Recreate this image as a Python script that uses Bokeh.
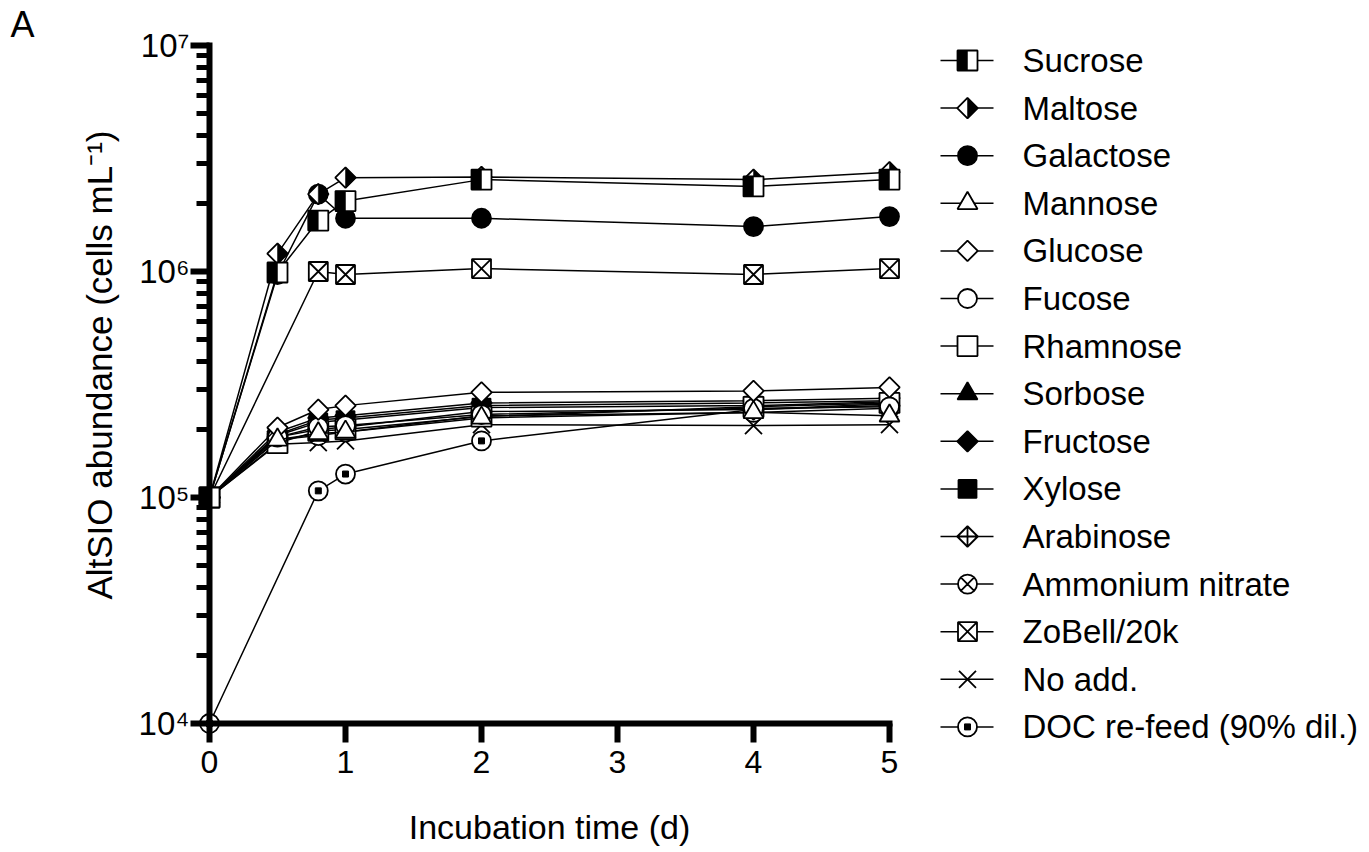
import math
from bokeh.plotting import figure
from bokeh.layouts import row
from bokeh.models import Range1d, FixedTicker, CustomJSTickFormatter, Label
from bokeh.embed import file_html
from bokeh.resources import INLINE
from bokeh.core.properties import value

FONT = "Liberation Sans"

# ---------------- data ----------------
t_full = [0, 0.5, 0.8, 1, 2, 4, 5]
t_skip = [0, 0.8, 1, 2, 4, 5]

sucrose   = [1e5, 0.99e6, 1.68e6, 2.05e6, 2.55e6, 2.38e6, 2.55e6]
maltose   = [1e5, 1.20e6, 2.20e6, 2.60e6, 2.62e6, 2.55e6, 2.75e6]
galactose = [1e5, 0.97e6, 2.20e6, 1.72e6, 1.72e6, 1.58e6, 1.75e6]
mannose   = [1e5, 1.80e5, 1.92e5, 1.95e5, 2.25e5, 2.38e5, 2.30e5]
glucose   = [1e5, 2.04e5, 2.45e5, 2.55e5, 2.92e5, 2.96e5, 3.07e5]
fucose    = [1e5, 1.85e5, 2.05e5, 2.08e5, 2.33e5, 2.48e5, 2.52e5]
rhamnose  = [1e5, 1.74e5, 1.97e5, 2.00e5, 2.28e5, 2.52e5, 2.62e5]
sorbose   = [1e5, 1.90e5, 2.20e5, 2.25e5, 2.55e5, 2.62e5, 2.68e5]
fructose  = [1e5, 1.95e5, 2.25e5, 2.30e5, 2.62e5, 2.68e5, 2.75e5]
xylose    = [1e5, 1.88e5, 2.15e5, 2.20e5, 2.50e5, 2.55e5, 2.65e5]
arabinose = [1e5, 1.85e5, 2.00e5, 2.05e5, 2.40e5, 2.45e5, 2.55e5]
ammonium  = [1e5, 1.80e5, 1.88e5, 1.95e5, 2.30e5, 2.38e5, 2.48e5]
zobell    = [1e5, 1.00e6, 0.97e6, 1.03e6, 0.97e6, 1.03e6]
noadd     = [1e5, 1.72e5, 1.75e5, 1.78e5, 2.10e5, 2.08e5, 2.10e5]
docrefeed = [1e4, 1.07e5, 1.27e5, 1.78e5, 2.45e5, 2.60e5]

names = ["Sucrose", "Maltose", "Galactose", "Mannose", "Glucose", "Fucose",
         "Rhamnose", "Sorbose", "Fructose", "Xylose", "Arabinose",
         "Ammonium nitrate", "ZoBell/20k", "No add.", "DOC re-feed (90% dil.)"]
times = [t_full] * 12 + [t_skip, t_full, t_skip]
values = [sucrose, maltose, galactose, mannose, glucose, fucose, rhamnose,
          sorbose, fructose, xylose, arabinose, ammonium, zobell, noadd, docrefeed]

x_ticks = [0, 1, 2, 3, 4, 5]
y_ticks = [1e4, 1e5, 1e6, 1e7]
y_minor = [m * 10.0 ** e for e in (4, 5, 6) for m in range(2, 10)]

# ---------------- styles ----------------
Q = math.pi / 4
D = 14.5  # rotated-square (diamond) size
styles = [
    dict(marker="square", size=20, fill="white", angle=0, extra="left_half"),
    dict(marker="square", size=D, fill="white", angle=Q, extra="right_half"),
    dict(marker="circle", size=19, fill="black", angle=0, extra=None),
    dict(marker="triangle", size=20, fill="white", angle=0, extra=None),
    dict(marker="square", size=D, fill="white", angle=Q, extra=None),
    dict(marker="circle", size=19, fill="white", angle=0, extra=None),
    dict(marker="square", size=20, fill="white", angle=0, extra=None),
    dict(marker="triangle", size=20, fill="black", angle=0, extra=None),
    dict(marker="square", size=D, fill="black", angle=Q, extra=None),
    dict(marker="square", size=18, fill="black", angle=0, extra=None),
    dict(marker="square_x", size=D, fill="white", angle=Q, extra=None),
    dict(marker="circle_x", size=19, fill="white", angle=0, extra=None),
    dict(marker="square_x", size=19, fill="white", angle=0, extra=None),
    dict(marker="x", size=24, fill="white", angle=0, extra=None),
    dict(marker="circle", size=19, fill="white", angle=0, extra="dot"),
]

# ---------------- main plot geometry ----------------
# frame covers the whole figure so that fixed-location axis labels are not clipped
FRAME_W, FRAME_H = 916, 852
ORIG_X, ORIG_Y = 209, 723      # screen position of (0, 1e4)
PX_DAY, PX_DEC = 136.0, 226.0
X0 = -ORIG_X / PX_DAY
X1 = (FRAME_W - ORIG_X) / PX_DAY
LY0 = 4 - (FRAME_H - ORIG_Y) / PX_DEC
LY1 = 4 + ORIG_Y / PX_DEC

p = figure(frame_width=FRAME_W, frame_height=FRAME_H, min_border=0,
           x_range=Range1d(X0, X1), y_range=Range1d(10 ** LY0, 10 ** LY1),
           y_axis_type="log", toolbar_location=None, output_backend="svg")
p.xgrid.visible = False
p.ygrid.visible = False
p.outline_line_color = None
p.background_fill_color = "white"

LW = 1.5
MLW = 1.8
for i in reversed(range(len(names))):
    t, v, st = times[i], values[i], styles[i]
    p.line(t, v, line_color="black", line_width=LW)
    p.scatter(t, v, marker=st["marker"], size=st["size"], angle=st["angle"],
              fill_color=st["fill"], line_color="black", line_width=MLW)
    if st["extra"] == "left_half":
        hx = (st["size"] / 2) / PX_DAY
        hy = (st["size"] / 2) / PX_DEC
        p.quad(left=[a - hx for a in t], right=t,
               top=[b * 10 ** hy for b in v], bottom=[b * 10 ** (-hy) for b in v],
               fill_color="black", line_color="black", line_width=0.5)
    elif st["extra"] == "right_half":
        hd = st["size"] / math.sqrt(2)
        hx = hd / PX_DAY
        hy = hd / PX_DEC
        p.patches(xs=[[a, a + hx, a] for a in t],
                  ys=[[b * 10 ** hy, b, b * 10 ** (-hy)] for b in v],
                  fill_color="black", line_color="black", line_width=0.5)
    elif st["extra"] == "dot":
        p.scatter(t, v, marker="square", size=6, fill_color="black", line_color="black")

# axes
xa = p.xaxis[0]
ya = p.yaxis[0]
xa.fixed_location = 1e4
ya.fixed_location = 0
xa.bounds = (0, 5)
ya.bounds = (1e4, 1e7)
xa.ticker = FixedTicker(ticks=x_ticks, minor_ticks=[])
ya.ticker = FixedTicker(ticks=y_ticks, minor_ticks=y_minor)
ya.formatter = CustomJSTickFormatter(code="""
const s = {"0":"\u2070","1":"\u00b9","2":"\u00b2","3":"\u00b3","4":"\u2074","5":"\u2075","6":"\u2076","7":"\u2077","8":"\u2078","9":"\u2079","-":"\u207b"};
const e = Math.round(Math.log10(tick));
return "10" + String(e).split("").map(c => s[c]).join("");
""")
for ax in (xa, ya):
    ax.axis_line_width = 6
    ax.axis_line_cap = "square"
    ax.axis_line_color = "black"
    ax.major_tick_line_width = 6
    ax.major_tick_line_color = "black"
    ax.major_tick_in = 0
    ax.major_tick_out = 19
    ax.major_label_text_font = FONT
    ax.major_label_text_color = "black"
    ax.axis_label_text_font = FONT
    ax.axis_label_text_font_style = "normal"
    ax.axis_label_text_color = "black"
xa.major_label_text_font_size = "32px"
ya.major_label_text_font_size = "33px"
xa.minor_tick_out = 0
xa.minor_tick_in = 0
ya.minor_tick_in = 0
ya.minor_tick_out = 13
ya.minor_tick_line_width = 5
ya.minor_tick_line_color = "black"
xa.major_label_standoff = 8
ya.major_label_standoff = 1
xa.axis_label = "Incubation time (d)"
ya.axis_label = "\u00a0\u00a0\u00a0\u00a0AltSIO abundance (cells mL\u207b\u00b9)"
xa.axis_label_text_font_size = "34px"
ya.axis_label_text_font_size = "35px"
xa.axis_label_standoff = 32
ya.axis_label_standoff = 17

p.add_layout(Label(x=10, y=FRAME_H - 24, x_units="screen", y_units="screen", text="A",
                   text_font=FONT, text_font_size="36px",
                   text_baseline="alphabetic", text_color="black"))

# ---------------- legend panel ----------------
LG_W = 445
lg = figure(frame_width=LG_W, frame_height=FRAME_H, min_border=0,
            x_range=Range1d(FRAME_W, FRAME_W + LG_W),
            y_range=Range1d(FRAME_H, 0), toolbar_location=None,
            output_backend="svg",
            x_axis_location=None, y_axis_location=None)
lg.xgrid.visible = False
lg.ygrid.visible = False
lg.outline_line_color = None

row_y = [60 + 47.6 * i for i in range(len(names))]
MX = 967
for i in range(len(names)):
    y = row_y[i]
    st = styles[i]
    lg.segment(x0=[940], x1=[993], y0=[y], y1=[y], line_color="black", line_width=LW)
    lg.scatter([MX], [y], marker=st["marker"], size=st["size"], angle=st["angle"],
               fill_color=st["fill"], line_color="black", line_width=MLW)
    if st["extra"] == "left_half":
        h = st["size"] / 2
        lg.quad(left=[MX - h], right=[MX], top=[y - h], bottom=[y + h],
                fill_color="black", line_color="black", line_width=0.5)
    elif st["extra"] == "right_half":
        hd = st["size"] / math.sqrt(2)
        lg.patches(xs=[[MX, MX + hd, MX]], ys=[[y - hd, y, y + hd]],
                   fill_color="black", line_color="black", line_width=0.5)
    elif st["extra"] == "dot":
        lg.scatter([MX], [y], marker="square", size=6, fill_color="black", line_color="black")

lg.text(x=[1022] * len(names), y=row_y, text=names, text_font=value(FONT),
        text_font_size="33px", text_baseline="middle", text_align="left",
        text_color="black")

layout = row(p, lg)
open("out.html", "w").write(file_html(layout, INLINE))
